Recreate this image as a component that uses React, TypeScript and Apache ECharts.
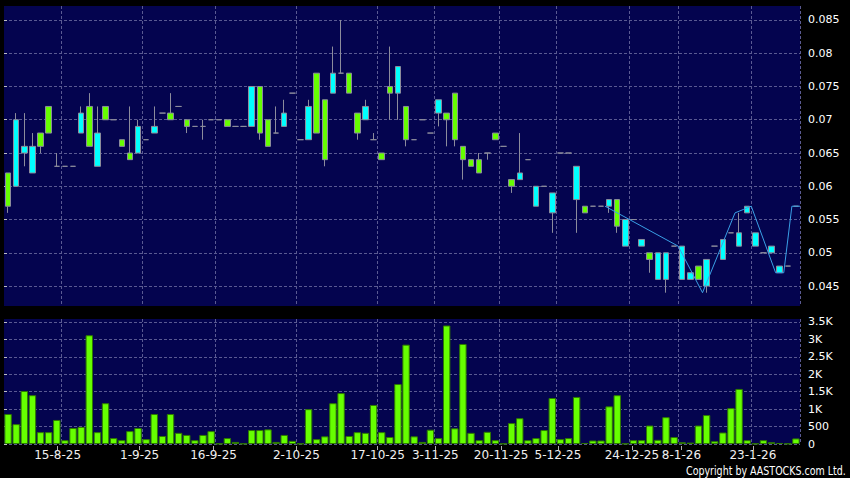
import React, { useEffect, useRef } from "react";
import * as echarts from "echarts";

// [open, close, low, high] per trading day (green = close > open, cyan = close < open)
const candles: number[][] = [
  [0.057, 0.062, 0.056, 0.062],
  [0.070, 0.060, 0.060, 0.071],
  [0.066, 0.065, 0.063, 0.071],
  [0.066, 0.062, 0.062, 0.068],
  [0.066, 0.068, 0.065, 0.068],
  [0.068, 0.072, 0.068, 0.072],
  [0.063, 0.063, 0.063, 0.065],
  [0.063, 0.063, 0.063, 0.063],
  [0.063, 0.063, 0.063, 0.063],
  [0.071, 0.068, 0.068, 0.072],
  [0.066, 0.072, 0.066, 0.074],
  [0.068, 0.063, 0.063, 0.072],
  [0.070, 0.072, 0.070, 0.072],
  [0.070, 0.070, 0.070, 0.070],
  [0.066, 0.067, 0.066, 0.067],
  [0.064, 0.065, 0.064, 0.072],
  [0.069, 0.065, 0.065, 0.070],
  [0.067, 0.067, 0.067, 0.067],
  [0.069, 0.068, 0.068, 0.072],
  [0.071, 0.071, 0.071, 0.071],
  [0.070, 0.071, 0.070, 0.074],
  [0.072, 0.072, 0.072, 0.072],
  [0.069, 0.070, 0.068, 0.070],
  [0.069, 0.069, 0.069, 0.069],
  [0.069, 0.069, 0.067, 0.070],
  [0.070, 0.070, 0.070, 0.070],
  [0.070, 0.070, 0.070, 0.070],
  [0.069, 0.070, 0.069, 0.070],
  [0.069, 0.069, 0.069, 0.069],
  [0.069, 0.069, 0.069, 0.069],
  [0.075, 0.069, 0.069, 0.075],
  [0.068, 0.075, 0.067, 0.075],
  [0.066, 0.070, 0.066, 0.070],
  [0.068, 0.068, 0.068, 0.072],
  [0.071, 0.069, 0.069, 0.073],
  [0.074, 0.074, 0.074, 0.074],
  [0.067, 0.067, 0.067, 0.067],
  [0.072, 0.067, 0.067, 0.073],
  [0.068, 0.077, 0.068, 0.077],
  [0.064, 0.073, 0.063, 0.073],
  [0.077, 0.074, 0.074, 0.081],
  [0.077, 0.077, 0.077, 0.085],
  [0.074, 0.077, 0.074, 0.077],
  [0.068, 0.071, 0.067, 0.071],
  [0.072, 0.070, 0.070, 0.073],
  [0.067, 0.067, 0.067, 0.068],
  [0.064, 0.065, 0.064, 0.065],
  [0.074, 0.075, 0.070, 0.081],
  [0.078, 0.074, 0.070, 0.078],
  [0.067, 0.072, 0.066, 0.072],
  [0.067, 0.067, 0.067, 0.067],
  [0.070, 0.070, 0.070, 0.070],
  [0.068, 0.068, 0.068, 0.068],
  [0.073, 0.071, 0.069, 0.073],
  [0.070, 0.071, 0.066, 0.071],
  [0.067, 0.074, 0.066, 0.074],
  [0.064, 0.066, 0.061, 0.066],
  [0.063, 0.064, 0.063, 0.064],
  [0.062, 0.064, 0.062, 0.065],
  [0.065, 0.065, 0.064, 0.065],
  [0.067, 0.068, 0.067, 0.068],
  [0.066, 0.066, 0.066, 0.066],
  [0.060, 0.061, 0.059, 0.061],
  [0.062, 0.061, 0.061, 0.068],
  [0.064, 0.064, 0.064, 0.064],
  [0.060, 0.057, 0.057, 0.060],
  [0.060, 0.060, 0.060, 0.060],
  [0.059, 0.056, 0.053, 0.059],
  [0.065, 0.065, 0.065, 0.065],
  [0.065, 0.065, 0.065, 0.065],
  [0.063, 0.058, 0.053, 0.063],
  [0.056, 0.057, 0.056, 0.057],
  [0.057, 0.057, 0.057, 0.057],
  [0.057, 0.057, 0.057, 0.057],
  [0.058, 0.057, 0.056, 0.058],
  [0.054, 0.058, 0.053, 0.058],
  [0.055, 0.051, 0.051, 0.055],
  [0.055, 0.055, 0.055, 0.055],
  [0.052, 0.051, 0.051, 0.052],
  [0.049, 0.050, 0.047, 0.050],
  [0.050, 0.046, 0.046, 0.050],
  [0.050, 0.046, 0.044, 0.050],
  [0.051, 0.051, 0.051, 0.051],
  [0.051, 0.046, 0.046, 0.051],
  [0.047, 0.046, 0.046, 0.047],
  [0.046, 0.048, 0.046, 0.048],
  [0.049, 0.045, 0.044, 0.049],
  [0.051, 0.051, 0.051, 0.051],
  [0.052, 0.049, 0.049, 0.052],
  [0.053, 0.053, 0.053, 0.053],
  [0.053, 0.051, 0.051, 0.056],
  [0.057, 0.056, 0.056, 0.057],
  [0.053, 0.051, 0.051, 0.053],
  [0.050, 0.050, 0.050, 0.050],
  [0.051, 0.050, 0.050, 0.051],
  [0.048, 0.047, 0.047, 0.048],
  [0.048, 0.048, 0.048, 0.048],
  [0.057, 0.057, 0.057, 0.057],
];

// daily volume (shares)
const volumes: number[] = [
  860, 570, 1520, 1400, 340, 340, 690, 110, 460, 490,
  3120, 340, 1170, 170, 110, 370, 460, 140, 860, 230,
  860, 320, 260, 110, 260, 370, 10, 170, 60, 10,
  400, 400, 420, 60, 260, 90, 10, 1000, 140, 220,
  1170, 1460, 230, 340, 320, 1120, 340, 200, 1720, 2850,
  220, 60, 410, 170, 3400, 450, 2870, 320, 110, 350,
  110, 10, 600, 740, 110, 170, 400, 1320, 140, 170,
  1350, 30, 100, 100, 1080, 1400, 10, 110, 110, 530,
  120, 770, 200, 50, 40, 530, 830, 80, 330, 1030,
  1580, 110, 10, 110, 50, 30, 10, 160,
];

// thin blue line: day position and price
const lineDays: number[] = [74, 83, 86, 90, 91, 92, 95, 96, 97, 98];
const linePrices: number[] = [0.057, 0.051, 0.044, 0.056, 0.0565, 0.057, 0.047, 0.047, 0.057, 0.057];

// date labels and the day position of each
const dateLabels: string[] = ["15-8-25", "1-9-25", "16-9-25", "2-10-25", "17-10-25", "3-11-25", "20-11-25", "5-12-25", "24-12-25", "8-1-26", "23-1-26"];
const dateDays: number[] = [6.6, 16.7, 25.8, 36.0, 46.0, 53.1, 61.2, 68.2, 77.3, 83.4, 92.2];
const dateGridDays: number[] = [7, 17, 26, 36, 46, 53, 61, 68, 77, 83, 92];

const priceTicks: number[] = [0.045, 0.05, 0.055, 0.06, 0.065, 0.07, 0.075, 0.08, 0.085];
const volumeTicks: number[] = [0, 500, 1000, 1500, 2000, 2500, 3000, 3500];

const days = candles.map((_, i) => String(i));

const NAVY = "#04044f";
const GRID_LINE = { color: "#5a5a92", type: [3, 2] as number[], width: 1 };
const FONT = "DejaVu Sans";

export default function App() {
  const ref = useRef<HTMLDivElement>(null);
  useEffect(() => {
    const chart = echarts.init(ref.current!, null, { renderer: "svg" });
    const n = days.length;
    const option: any = {
      animation: false,
      backgroundColor: "#000000",
      grid: [
        { left: 4, top: 6, width: 796, height: 300, show: true, backgroundColor: NAVY, borderWidth: 0 },
        { left: 4, top: 319, width: 796, height: 125, show: true, backgroundColor: NAVY, borderWidth: 0 },
      ],
      xAxis: [
        {
          type: "category", gridIndex: 0, data: days, boundaryGap: true,
          axisLine: { show: false }, axisTick: { show: false }, axisLabel: { show: false },
          splitLine: { show: true, interval: (i: number) => dateGridDays.includes(i), lineStyle: GRID_LINE },
        },
        { type: "value", gridIndex: 0, min: 0, max: n, show: false },
        {
          type: "category", gridIndex: 1, data: days, boundaryGap: true,
          axisLine: { show: false }, axisTick: { show: false }, axisLabel: { show: false },
          splitLine: { show: true, interval: (i: number) => dateGridDays.includes(i), lineStyle: GRID_LINE },
        },
        {
          type: "value", gridIndex: 1, min: 0, max: n, position: "bottom", offset: 2,
          axisLine: { show: false },
          axisTick: { show: true, customValues: dateDays, length: 4, lineStyle: { color: "#b0b0b0" } },
          axisLabel: {
            customValues: dateDays, margin: 3, color: "#f0f0f0", fontSize: 12, fontFamily: FONT,
            formatter: (v: number) => { const k = dateDays.indexOf(v); return k >= 0 ? dateLabels[k] : ""; },
          },
          splitLine: { show: false },
        },
      ],
      yAxis: [
        {
          type: "value", gridIndex: 0, position: "right", min: 0.042, max: 0.0871, offset: 5, scale: true,
          axisLine: { show: false },
          axisTick: { show: true, customValues: priceTicks, length: 3, lineStyle: { color: "#c0c0c0" } },
          axisLabel: { customValues: priceTicks, margin: 3, color: "#ffffff", fontSize: 11, fontFamily: FONT },
          splitLine: { show: true, lineStyle: GRID_LINE },
        },
        {
          type: "value", gridIndex: 1, position: "right", min: 0, max: 3586, offset: 5,
          axisLine: { show: false },
          axisTick: { show: true, customValues: volumeTicks, length: 3, lineStyle: { color: "#c0c0c0" } },
          axisLabel: {
            customValues: volumeTicks, margin: 3, color: "#ffffff", fontSize: 11, fontFamily: FONT,
            formatter: (v: number) => (v >= 1000 ? v / 1000 + "K" : String(v)),
          },
          splitLine: { show: true, lineStyle: GRID_LINE },
        },
      ],
      series: [
        {
          type: "candlestick", xAxisIndex: 0, yAxisIndex: 0, data: candles, barWidth: 6,
          itemStyle: {
            color: "#66ff00", color0: "#00ffff",
            borderColor: "#8c8c9c", borderColor0: "#8c8c9c", borderColorDoji: "#8c8c9c", borderWidth: 1,
          },
          z: 3,
        },
        {
          type: "line", xAxisIndex: 1, yAxisIndex: 0,
          data: lineDays.map((d, i) => [d, linePrices[i]]),
          symbol: "none", lineStyle: { color: "#3aa0e6", width: 1 }, z: 4,
        },
        {
          type: "bar", xAxisIndex: 2, yAxisIndex: 1, data: volumes, barWidth: 7.4,
          itemStyle: { color: "#66ff00", borderColor: "#2f7a00", borderWidth: 1 },
        },
      ],
      graphic: [
        {
          type: "text", x: 686, y: 471, scaleX: 0.76,
          style: { text: "Copyright by AASTOCKS.com Ltd.", fill: "#ffffff", font: "12.5px 'DejaVu Sans'", textVerticalAlign: "middle" },
        },
      ],
    };
    chart.setOption(option);
    return () => chart.dispose();
  }, []);
  return <div ref={ref} style={{ position: "absolute", left: 0, top: 0, width: 850, height: 478, background: "#000" }} />;
}
